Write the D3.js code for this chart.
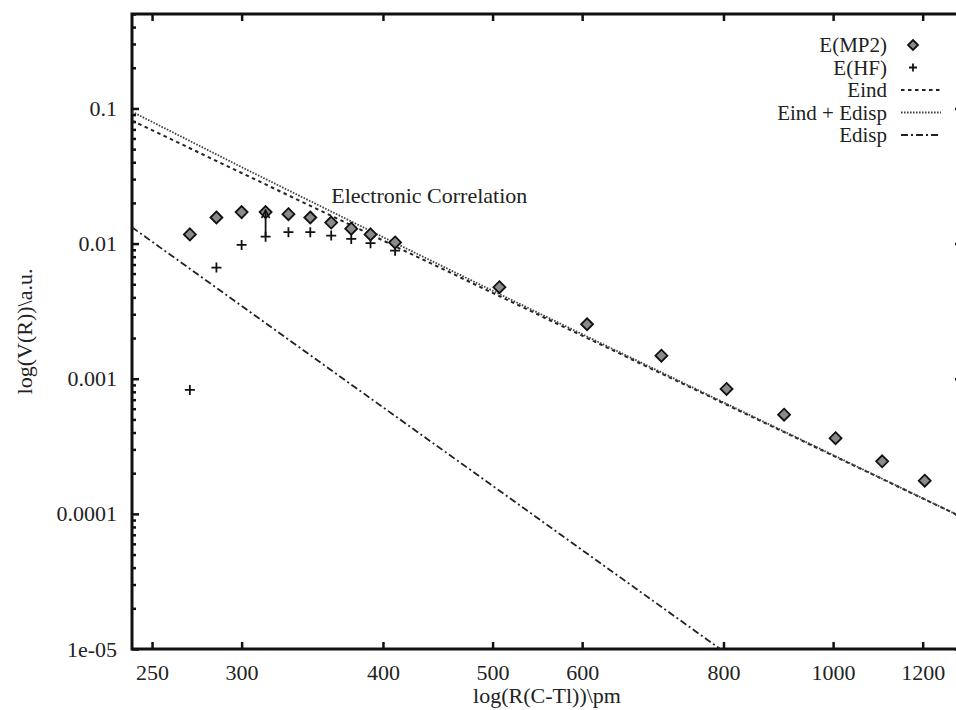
<!DOCTYPE html>
<html>
<head>
<meta charset="utf-8">
<script src="https://cdn.jsdelivr.net/npm/d3@7"></script>
<style>
    body { margin: 0; background: #fff; }
    svg text { font-family: "Liberation Serif", "Times New Roman", Times, "DejaVu Serif", serif !important; fill: #222; }
</style>
</head>
<body>
<div id="chart"></div>
<script>
// distances (pm) and energies (a.u.)
let rMP2 = [270, 285, 300, 315, 330, 345, 360, 375, 390, 410, 507, 606, 705, 805, 905, 1005, 1105, 1205];
let eMP2 = [0.0117, 0.0156, 0.0171, 0.0171, 0.0165, 0.0156, 0.0143, 0.0129, 0.0117, 0.0102,
            0.00476, 0.00253, 0.00148, 0.00084, 0.000542, 0.000363, 0.000245, 0.000176];
let rHF = [270, 285, 300, 315, 330, 345, 360, 375, 390, 410];
let eHF = [0.000826, 0.00665, 0.00978, 0.01126, 0.01215, 0.01215, 0.01146, 0.01083, 0.01007, 0.00887];

// model curves, sampled along R
let rLine = [240, 300, 400, 500, 600, 800, 1000, 1300];
let eInd = [0.0814, 0.0333, 0.01055, 0.00432, 0.002083, 0.000659, 0.00027, 0.0000945];
let eIndDisp = [0.0946, 0.0368, 0.01117, 0.00448, 0.002137, 0.000669, 0.0002725, 0.0000945];
let eDisp = [0.0132, 0.003457, 0.000615, 0.0001613, 0.000054, 0.00000961, 0.00000252, 0.00000052];

let xTicks = [250, 300, 400, 500, 600, 800, 1000, 1200];
let yTicks = [1e-5, 1e-4, 1e-3, 1e-2, 1e-1];
let yTickLabels = ["1e-05", "0.0001", "0.001", "0.01", "0.1"];

let width = 956, height = 710;
let plot = { left: 132, right: 962, top: 14, bottom: 649 };
let serif = "'Liberation Serif', 'Times New Roman', Times, 'DejaVu Serif', serif";

let svg = d3.select("#chart").append("svg")
    .attr("width", width)
    .attr("height", height)
    .attr("font-family", serif);

//=================================================
// Scales
//=================================================
let x = d3.scaleLog().domain([240, 1300]).range([plot.left, plot.right]);
let y = d3.scaleLog().domain([1e-5, 0.5]).range([plot.bottom, plot.top]);

// minor y ticks 2..9 per decade
let yMinor = [];
for (let p = -5; p <= -1; p++) {
    for (let m = 2; m <= 9; m++) {
        let v = m * Math.pow(10, p);
        if (v <= 0.5) yMinor.push(v);
    }
}

//=================================================
// Clip + arrow marker
//=================================================
let defs = svg.append("defs");
defs.append("clipPath")
    .attr("id", "plot-clip")
    .append("rect")
    .attr("x", plot.left)
    .attr("y", plot.top)
    .attr("width", plot.right - plot.left)
    .attr("height", plot.bottom - plot.top);

defs.append("marker")
    .attr("id", "arrowhead")
    .attr("viewBox", "0 0 10 10")
    .attr("refX", 9).attr("refY", 5)
    .attr("markerWidth", 10).attr("markerHeight", 10)
    .attr("markerUnits", "userSpaceOnUse")
    .attr("orient", "auto")
    .append("path")
    .attr("d", "M1,1 L9,5 L1,9")
    .attr("fill", "none")
    .attr("stroke", "#111")
    .attr("stroke-width", 1.6);

//=================================================
// Axes (gnuplot style: ticks inside, mirrored)
//=================================================
function styleAxis(g) {
    g.attr("font-family", serif);
    g.select(".domain").remove();
    g.selectAll(".tick line").attr("stroke", "#111").attr("stroke-width", 2.5);
    g.selectAll(".tick text").attr("font-size", 22).attr("fill", "#222");
}

svg.append("g")
    .attr("transform", "translate(0," + plot.bottom + ")")
    .call(d3.axisBottom(x).tickValues(xTicks).tickFormat(d3.format("d")).tickSize(-7).tickPadding(15))
    .call(styleAxis);
svg.append("g")
    .attr("transform", "translate(0," + plot.top + ")")
    .call(d3.axisTop(x).tickValues(xTicks).tickFormat("").tickSize(-7))
    .call(styleAxis);

svg.append("g")
    .attr("transform", "translate(" + plot.left + ",0)")
    .call(d3.axisLeft(y).tickValues(yTicks).tickFormat((d, i) => yTickLabels[i]).tickSize(-7).tickPadding(15))
    .call(styleAxis);
svg.append("g")
    .attr("transform", "translate(" + plot.left + ",0)")
    .call(d3.axisLeft(y).tickValues(yMinor).tickFormat("").tickSize(-4))
    .call(styleAxis);
svg.append("g")
    .attr("transform", "translate(" + plot.right + ",0)")
    .call(d3.axisRight(y).tickValues(yTicks).tickFormat("").tickSize(-7))
    .call(styleAxis);
svg.append("g")
    .attr("transform", "translate(" + plot.right + ",0)")
    .call(d3.axisRight(y).tickValues(yMinor).tickFormat("").tickSize(-4))
    .call(styleAxis);

svg.append("rect")
    .attr("x", plot.left).attr("y", plot.top)
    .attr("width", plot.right - plot.left)
    .attr("height", plot.bottom - plot.top)
    .attr("fill", "none")
    .attr("stroke", "#111")
    .attr("stroke-width", 3);

// axis names
svg.append("text")
    .attr("x", (plot.left + plot.right) / 2)
    .attr("y", 703)
    .attr("text-anchor", "middle")
    .attr("font-size", 22)
    .text("log(R(C-Tl))\\pm");

svg.append("text")
    .attr("transform", "translate(24," + ((plot.top + plot.bottom) / 2) + ") rotate(-90)")
    .attr("text-anchor", "middle")
    .attr("dominant-baseline", "central")
    .attr("font-size", 22)
    .text("log(V(R))\\a.u.");

//=================================================
// Series
//=================================================
let lineStyles = {
    ind: { dash: "3.5,3.5", width: 2, color: "#222" },
    indDisp: { dash: "1.6,1.4", width: 1.8, color: "#444" },
    disp: { dash: "7,3,2,3", width: 1.8, color: "#222" }
};

let plotArea = svg.append("g").attr("clip-path", "url(#plot-clip)");
let line = d3.line().x(d => x(d[0])).y(d => y(d[1]));

function addLine(values, st) {
    plotArea.append("path")
        .datum(rLine.map((r, i) => [r, values[i]]))
        .attr("d", line)
        .attr("fill", "none")
        .attr("stroke", st.color)
        .attr("stroke-width", st.width)
        .attr("stroke-dasharray", st.dash);
}
addLine(eInd, lineStyles.ind);
addLine(eIndDisp, lineStyles.indDisp);
addLine(eDisp, lineStyles.disp);

let diamond = "M0,-6 L6,0 L0,6 L-6,0 Z";
let cross = "M-5,0 L5,0 M0,-5 L0,5";

plotArea.selectAll(".hf")
    .data(rHF.map((r, i) => [r, eHF[i]]))
    .join("path")
    .attr("class", "hf")
    .attr("transform", d => "translate(" + x(d[0]) + "," + y(d[1]) + ")")
    .attr("d", cross)
    .attr("stroke", "#111")
    .attr("stroke-width", 1.8);

plotArea.selectAll(".mp2")
    .data(rMP2.map((r, i) => [r, eMP2[i]]))
    .join("path")
    .attr("class", "mp2")
    .attr("transform", d => "translate(" + x(d[0]) + "," + y(d[1]) + ")")
    .attr("d", diamond)
    .attr("fill", "#8a8a8a")
    .attr("stroke", "#111")
    .attr("stroke-width", 1.8);

// arrow from HF to MP2 at 315 pm
svg.append("line")
    .attr("x1", x(rHF[3])).attr("y1", y(eHF[3]))
    .attr("x2", x(rMP2[3])).attr("y2", y(eMP2[3]) - 2)
    .attr("stroke", "#111")
    .attr("stroke-width", 1.8)
    .attr("marker-end", "url(#arrowhead)");

svg.append("text")
    .attr("x", x(360))
    .attr("y", y(0.02))
    .attr("font-size", 22)
    .text("Electronic Correlation");

//=================================================
// Legend
//=================================================
let legendRows = [
    { name: "E(MP2)", type: "mp2" },
    { name: "E(HF)", type: "hf" },
    { name: "Eind", type: "ind" },
    { name: "Eind + Edisp", type: "indDisp" },
    { name: "Edisp", type: "disp" }
];
let legend = svg.append("g");
legendRows.forEach((row, i) => {
    let cy = 45 + i * 22.5;
    legend.append("text")
        .attr("x", 887).attr("y", cy + 7)
        .attr("text-anchor", "end")
        .attr("font-size", 21)
        .text(row.name);
    if (row.type === "mp2") {
        legend.append("path").attr("transform", "translate(913," + cy + ")")
            .attr("d", "M0,-5 L5,0 L0,5 L-5,0 Z")
            .attr("fill", "#8a8a8a").attr("stroke", "#111").attr("stroke-width", 1.8);
    } else if (row.type === "hf") {
        legend.append("path").attr("transform", "translate(913," + cy + ")")
            .attr("d", "M-4,0 L4,0 M0,-4 L0,4")
            .attr("stroke", "#111").attr("stroke-width", 1.8);
    } else {
        let st = lineStyles[row.type];
        legend.append("line")
            .attr("x1", 901).attr("x2", 941).attr("y1", cy).attr("y2", cy)
            .attr("stroke", st.color)
            .attr("stroke-width", st.width)
            .attr("stroke-dasharray", st.dash);
    }
});
</script>
</body>
</html>
